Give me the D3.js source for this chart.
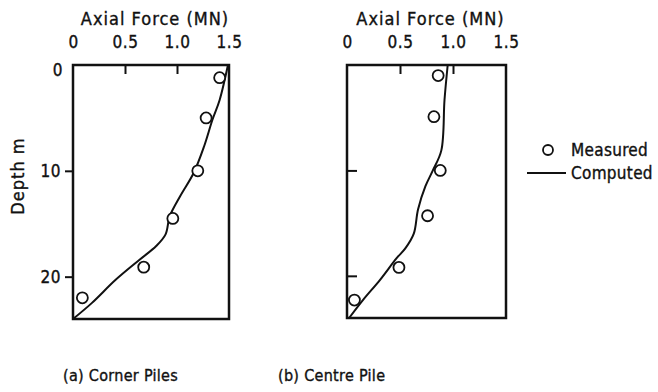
<!DOCTYPE html>
<html>
<head>
<meta charset="utf-8">
<script src="https://cdn.jsdelivr.net/npm/d3@7"></script>
<style>
  body { margin: 0; background: #fff; }
  svg text {
    font-family: "DejaVu Sans Condensed", "Liberation Sans Narrow", sans-serif;
    fill: #111; stroke: #111; stroke-width: 0.35px;
  }
</style>
</head>
<body>
<div id="chart"></div>
<script>
// force (MN) vs depth (m)
const forceTicks = [0, 0.5, 1.0, 1.5]
const forceTickLabels = ["0", "0.5", "1.0", "1.5"]
const depthTicks = [0, 10, 20]

const cornerMeasuredDepth = [1.2, 5.0, 10.0, 14.5, 19.1, 22.0]
const cornerMeasuredForce = [1.41, 1.28, 1.20, 0.96, 0.68, 0.09]
const cornerComputedDepth = [0, 3.3, 5.2, 7.7, 10.2, 12.4, 14.3, 16.0, 17.1, 18.4, 20.3, 22.5, 24.0]
const cornerComputedForce = [1.49, 1.41, 1.34, 1.26, 1.16, 1.03, 0.93, 0.89, 0.80, 0.64, 0.41, 0.18, 0.0]

const centreMeasuredDepth = [1.0, 4.9, 10.0, 14.3, 19.2, 22.3]
const centreMeasuredForce = [0.86, 0.82, 0.88, 0.76, 0.49, 0.07]
const centreComputedDepth = [0, 3.3, 8.1, 10.0, 11.5, 13.7, 16.0, 17.4, 18.3, 20.4, 22.3, 24.0]
const centreComputedForce = [0.95, 0.92, 0.89, 0.81, 0.74, 0.67, 0.63, 0.55, 0.47, 0.31, 0.15, 0.02]

const width = 658, height = 392

const svg = d3.select("#chart")
    .append("svg")
    .attr("width", width)
    .attr("height", height)

function zip(xs, ys) {
    return xs.map((d, i) => ({force: d, depth: ys[i]}))
}

function drawPanel(opts) {
    let x = d3.scaleLinear().domain([0, 1.5]).range([opts.left, opts.right])
    let y = d3.scaleLinear().domain([0, 24]).range([opts.top, opts.bottom])

    let g = svg.append("g")

    // box
    g.append("rect")
        .attr("x", opts.left)
        .attr("y", opts.top)
        .attr("width", opts.right - opts.left)
        .attr("height", opts.bottom - opts.top)
        .attr("fill", "none")
        .attr("stroke", "#111")
        .attr("stroke-width", 2.5)

    // top force axis, ticks point inward
    let xAxis = d3.axisTop(x)
        .tickValues(forceTicks)
        .tickFormat((d, i) => forceTickLabels[i])
        .tickSizeInner(-9)
        .tickSizeOuter(0)
        .tickPadding(17)
    let xa = g.append("g")
        .attr("transform", `translate(0,${opts.top})`)
        .call(xAxis)
    xa.select(".domain").remove()
    xa.selectAll("line").attr("stroke", "#111").attr("stroke-width", 2)
        .filter(d => d === 0 || d === 1.5).remove()
    xa.selectAll("text").attr("font-size", 17).attr("fill", "#111")
        .attr("letter-spacing", 0.5)

    // depth axis
    let yAxis = d3.axisLeft(y)
        .tickValues(depthTicks)
        .tickSizeInner(opts.showDepthLabels ? 8 : -10)
        .tickSizeOuter(0)
        .tickPadding(opts.showDepthLabels ? 4 : 0)
        .tickFormat(opts.showDepthLabels ? d3.format("d") : "")
    let ya = g.append("g")
        .attr("transform", `translate(${opts.left},0)`)
        .call(yAxis)
    ya.select(".domain").remove()
    ya.selectAll("line").attr("stroke", "#111").attr("stroke-width", 2)
        .filter(d => d === 0).remove()
    ya.selectAll("text").attr("font-size", 17).attr("fill", "#111")
        .attr("letter-spacing", 0.5)
    ya.selectAll(".tick").filter(d => d === 0).select("text")
        .attr("dy", "0.6em").attr("x", -10)

    // title
    g.append("text")
        .attr("x", (opts.left + opts.right) / 2 + 4)
        .attr("y", 25)
        .attr("text-anchor", "middle")
        .attr("font-size", 18)
        .attr("letter-spacing", 1)
        .text("Axial Force (MN)")

    // caption
    g.append("text")
        .attr("x", opts.captionX)
        .attr("y", 381)
        .attr("font-size", 16)
        .attr("letter-spacing", 0.3)
        .text(opts.caption)

    let line = d3.line()
        .x(d => x(d.force))
        .y(d => y(d.depth))
        .curve(d3.curveCatmullRom.alpha(0.5))

    g.append("path")
        .datum(opts.computed)
        .attr("d", line)
        .attr("fill", "none")
        .attr("stroke", "#111")
        .attr("stroke-width", 2)

    g.append("g")
        .selectAll("circle")
        .data(opts.measured)
        .enter()
        .append("circle")
        .attr("cx", d => x(d.force))
        .attr("cy", d => y(d.depth))
        .attr("r", 5.5)
        .attr("fill", "#fff")
        .attr("stroke", "#111")
        .attr("stroke-width", 1.8)
}

drawPanel({
    left: 73, right: 229, top: 65, bottom: 319,
    showDepthLabels: true,
    caption: "(a) Corner Piles", captionX: 63,
    measured: zip(cornerMeasuredForce, cornerMeasuredDepth),
    computed: zip(cornerComputedForce, cornerComputedDepth)
})

drawPanel({
    left: 347, right: 506, top: 65, bottom: 318,
    showDepthLabels: false,
    caption: "(b) Centre Pile", captionX: 278,
    measured: zip(centreMeasuredForce, centreMeasuredDepth),
    computed: zip(centreComputedForce, centreComputedDepth)
})

// depth label
svg.append("text")
    .attr("transform", "translate(24,176) rotate(-90)")
    .attr("text-anchor", "middle")
    .attr("font-size", 18)
    .attr("letter-spacing", 1)
    .text("Depth m")

// legend
let legend = svg.append("g")
legend.append("circle")
    .attr("cx", 548).attr("cy", 150).attr("r", 5)
    .attr("fill", "#fff").attr("stroke", "#111").attr("stroke-width", 1.8)
legend.append("text")
    .attr("x", 571).attr("y", 156).attr("font-size", 17)
    .attr("letter-spacing", 0.3)
    .text("Measured")
legend.append("line")
    .attr("x1", 527).attr("x2", 566).attr("y1", 173).attr("y2", 173)
    .attr("stroke", "#111").attr("stroke-width", 2)
legend.append("text")
    .attr("x", 571).attr("y", 179).attr("font-size", 17)
    .attr("letter-spacing", 0.3)
    .text("Computed")
</script>
</body>
</html>
